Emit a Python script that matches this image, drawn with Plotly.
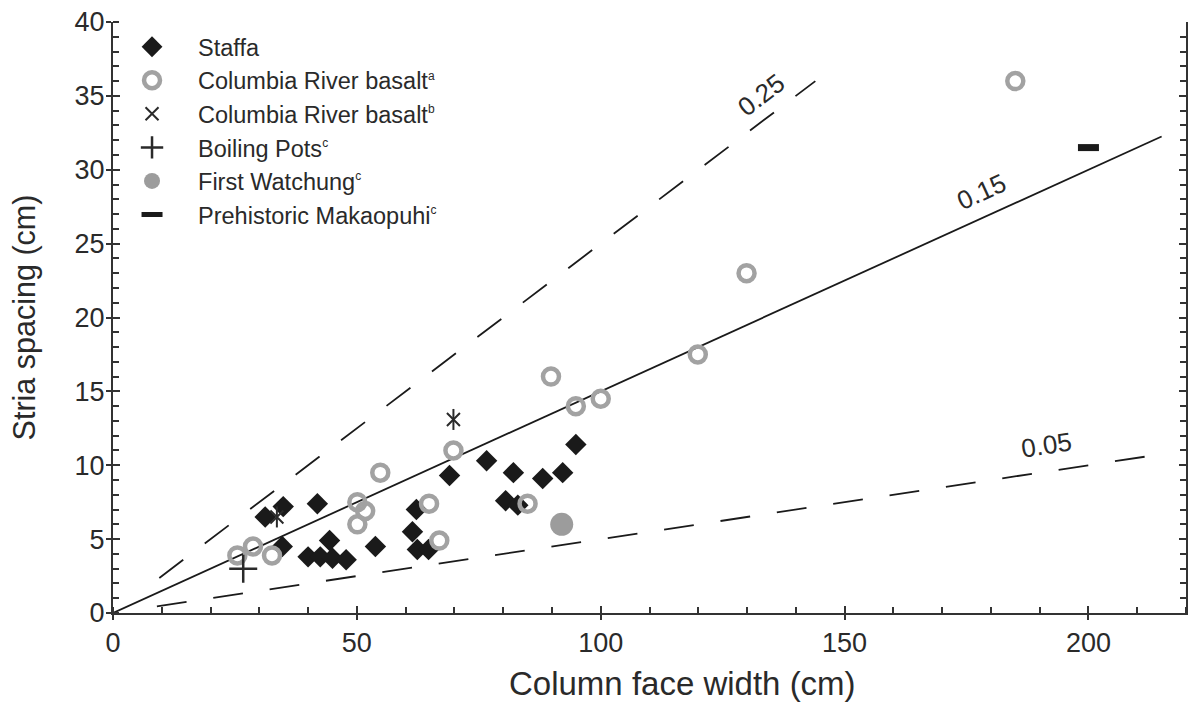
import plotly.graph_objects as go

# Staffa columns
staffa_x = [31.2, 34.9, 41.9, 34.7, 40.0, 42.5, 44.4, 45.0, 47.8, 53.8, 61.4,
            62.2, 62.4, 64.7, 69.0, 76.6, 80.5, 83.0, 82.1, 88.1, 92.2, 94.9]
staffa_y = [6.5, 7.2, 7.4, 4.5, 3.8, 3.8, 4.9, 3.7, 3.6, 4.5, 5.5,
            7.0, 4.3, 4.3, 9.3, 10.3, 7.6, 7.3, 9.5, 9.1, 9.5, 11.4]

# Columbia River basalt (a)
crb_a_x = [25.5, 28.7, 32.6, 50.1, 51.7, 50.1, 54.8, 69.8, 64.8, 66.9,
           85.0, 89.8, 94.9, 100.0, 119.9, 129.9, 185.0]
crb_a_y = [3.9, 4.5, 3.9, 7.5, 6.9, 6.0, 9.5, 11.0, 7.4, 4.9,
           7.4, 16.0, 14.0, 14.5, 17.5, 23.0, 36.0]

# Columbia River basalt (b)
crb_b_x = [33.6, 69.8]
crb_b_y = [6.5, 13.1]

# Boiling Pots, First Watchung, Prehistoric Makaopuhi
boiling_x, boiling_y = [26.7], [3.0]
watchung_x, watchung_y = [92.0], [6.0]
makaopuhi_x, makaopuhi_y = [200.0], [31.5]

# Reference ratios (stria spacing / column face width) and their drawn extents
ratios = [0.25, 0.15, 0.05]
ratio_x_start = [9.5, 0.0, 9.0]
ratio_x_end = [144.0, 215.0, 215.0]
ratio_dash = ["30px,27px", "solid", "30px,27px"]
ratio_label_x = [132.9, 178.0, 191.4]
ratio_label_angle = [-37.2, -24.5, -8.6]

FONT = "Liberation Sans, Arial, sans-serif"
INK = "#2a2a2a"
AX = "#333333"
GREY = "#a2a2a2"


def sup(letter):
    return f"<sup><span style='font-size:12px'>{letter}</span></sup>"


fig = go.Figure()

# reference lines
for r, x0, x1, dash in zip(ratios, ratio_x_start, ratio_x_end, ratio_dash):
    fig.add_trace(go.Scatter(
        x=[x0, x1], y=[r * x0, r * x1], mode="lines",
        line=dict(color="#1a1a1a", width=1.8, dash=dash),
        showlegend=False, hoverinfo="skip"))

fig.add_trace(go.Scatter(
    x=staffa_x, y=staffa_y, mode="markers", name="Staffa",
    marker=dict(symbol="diamond", size=16.5, color="#1a1a1a",
                line=dict(width=0))))
fig.add_trace(go.Scatter(
    x=crb_a_x, y=crb_a_y, mode="markers", name="Columbia River basalt" + sup("a"),
    marker=dict(symbol="circle-open", size=16, color=GREY,
                line=dict(width=4.5, color=GREY))))
fig.add_trace(go.Scatter(
    x=crb_b_x, y=crb_b_y, mode="markers", name="Columbia River basalt" + sup("b"),
    marker=dict(symbol="x-thin-open", size=13, color=INK,
                line=dict(width=2, color=INK))))
fig.add_trace(go.Scatter(
    x=crb_b_x, y=crb_b_y, mode="markers", showlegend=False,
    marker=dict(symbol="line-ns-open", size=15, color=INK,
                line=dict(width=2, color=INK)), hoverinfo="skip"))
fig.add_trace(go.Scatter(
    x=boiling_x, y=boiling_y, mode="markers", name="Boiling Pots" + sup("c"),
    marker=dict(symbol="cross-thin-open", size=20, color=INK,
                line=dict(width=2.5, color=INK))))
fig.add_trace(go.Scatter(
    x=watchung_x, y=watchung_y, mode="markers", name="First Watchung" + sup("c"),
    marker=dict(symbol="circle", size=23, color="#9c9c9c", line=dict(width=0))))
fig.add_trace(go.Scatter(
    x=makaopuhi_x, y=makaopuhi_y, mode="markers", name="Prehistoric Makaopuhi" + sup("c"),
    marker=dict(symbol="line-ew-open", size=15, color="#1a1a1a",
                line=dict(width=7, color="#1a1a1a"))))

# ratio labels along the lines
for r, lx, ang in zip(ratios, ratio_label_x, ratio_label_angle):
    fig.add_annotation(x=lx, y=r * lx, text=f"{r:.2f}", showarrow=False,
                       textangle=ang, yshift=27,
                       font=dict(family=FONT, size=26, color=INK))

# x-axis title, set a little right of centre
fig.add_annotation(x=0.531, y=0, xref="paper", yref="paper", yanchor="middle",
                   yshift=-70, text="Column face width (cm)", showarrow=False,
                   font=dict(family=FONT, size=33, color=INK))

tick_style = dict(ticklen=6, tickwidth=1.5, tickcolor=AX)
minor_x = dict(ticks="inside", dtick=10, **tick_style)
minor_y = dict(ticks="inside", dtick=1, **tick_style)

fig.update_layout(
    width=1188, height=709,
    margin=dict(l=113, r=2, t=22, b=96),
    paper_bgcolor="white", plot_bgcolor="white",
    font=dict(family=FONT, color=INK),
    xaxis=dict(range=[0, 220], tick0=0, dtick=50, minor=minor_x,
               showline=True, linecolor=AX, linewidth=2, showgrid=False,
               zeroline=False, ticks="outside", ticklen=5, tickwidth=1.5,
               tickcolor=AX, tickfont=dict(family=FONT, size=27, color=INK)),
    yaxis=dict(range=[0, 40], tick0=0, dtick=5, minor=minor_y,
               showline=True, linecolor=AX, linewidth=2, showgrid=False,
               zeroline=False, ticks="outside", ticklen=5, tickwidth=1.5,
               tickcolor=AX, ticklabelstandoff=-4,
               tickfont=dict(family=FONT, size=27, color=INK),
               title=dict(text="Stria spacing (cm)",
                          font=dict(family=FONT, size=30.5, color=INK), standoff=30)),
    # inner halves of the major ticks
    xaxis2=dict(range=[0, 220], overlaying="x", side="bottom", anchor="y",
                showline=False, showgrid=False, zeroline=False,
                showticklabels=False, ticks="inside", tick0=0, dtick=50,
                ticklen=7, tickwidth=1.5, tickcolor=AX),
    yaxis3=dict(range=[0, 40], overlaying="y", side="left", anchor="x",
                showline=False, showgrid=False, zeroline=False,
                showticklabels=False, ticks="inside", tick0=0, dtick=5,
                ticklen=7, tickwidth=1.5, tickcolor=AX),
    # right-hand frame with ticks
    yaxis2=dict(range=[0, 40], overlaying="y", side="right", anchor="x",
                showline=True, linecolor=AX, linewidth=2, showgrid=False,
                zeroline=False, showticklabels=False,
                ticks="inside", tick0=0, dtick=5, ticklen=7, tickwidth=1.5,
                tickcolor=AX, minor=minor_y),
    legend=dict(x=-0.0065, y=0.995, xanchor="left", yanchor="top",
                itemwidth=82, tracegroupgap=0, traceorder="normal",
                bgcolor="rgba(0,0,0,0)", borderwidth=0,
                font=dict(family=FONT, size=23.5, color=INK)),
)

# empty traces so the extra axes are drawn
fig.add_trace(go.Scatter(x=[None], y=[None], yaxis="y2", showlegend=False,
                         hoverinfo="skip"))
fig.add_trace(go.Scatter(x=[None], y=[None], xaxis="x2", yaxis="y3",
                         showlegend=False, hoverinfo="skip"))

fig.write_html("out.html")
